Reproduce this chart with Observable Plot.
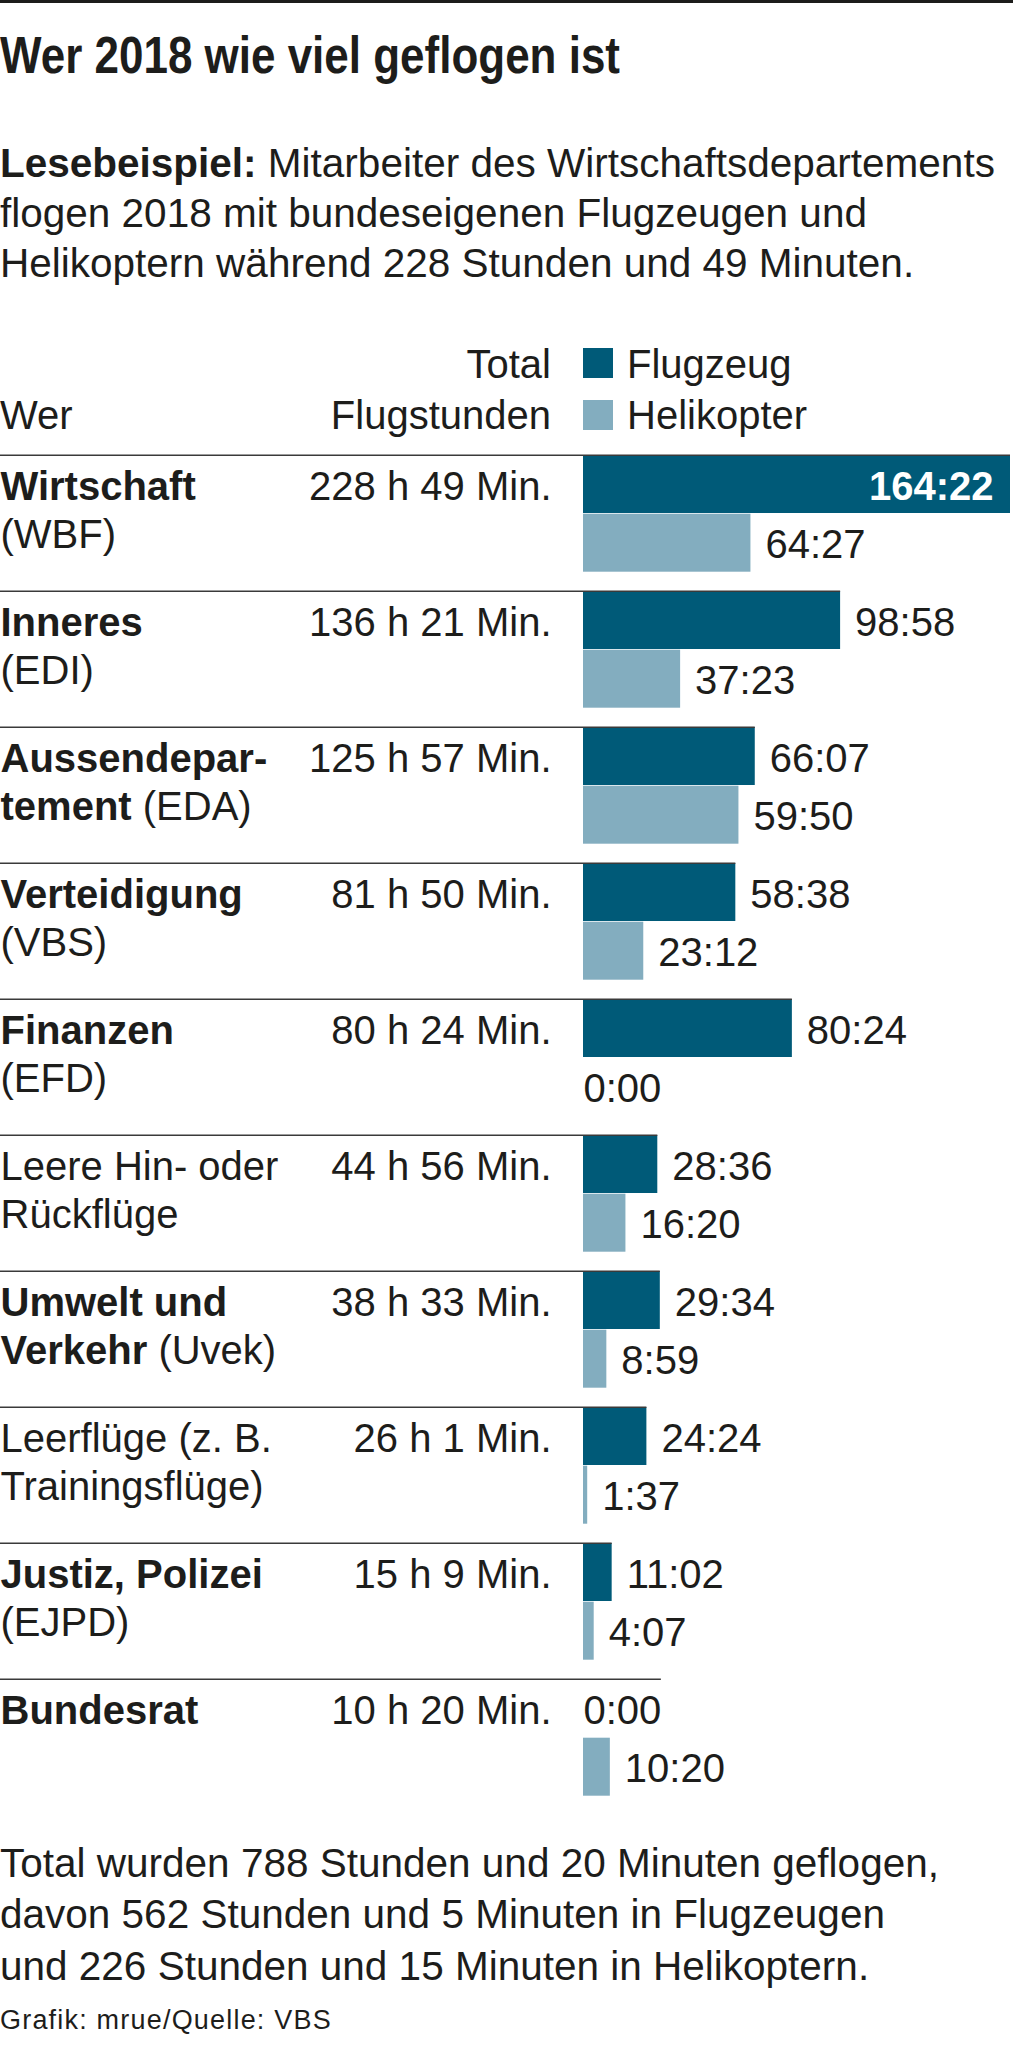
<!DOCTYPE html>
<html><head><meta charset="utf-8">
<script src="https://cdn.jsdelivr.net/npm/d3@7"></script>
<script src="https://cdn.jsdelivr.net/npm/@observablehq/plot@0.6"></script>
<style>
html,body{margin:0;padding:0;background:#fff;}
body{width:1013px;height:2048px;position:relative;overflow:hidden;color:#1d1d1b;}
.abs{position:absolute;white-space:nowrap;}
</style></head><body>
<script>
// ---------- data ----------
const title = "Wer 2018 wie viel geflogen ist";
const intro = ["**Lesebeispiel:** Mitarbeiter des Wirtschaftsdepartements",
               "flogen 2018 mit bundeseigenen Flugzeugen und",
               "Helikoptern während 228 Stunden und 49 Minuten."];
const headWer = "Wer";
const headTotal = ["Total", "Flugstunden"];
const serien = ["Flugzeug", "Helikopter"];
const wer = ["**Wirtschaft**\n(WBF)", "**Inneres**\n(EDI)", "**Aussendepar-**\n**tement** (EDA)",
             "**Verteidigung**\n(VBS)", "**Finanzen**\n(EFD)", "Leere Hin- oder\nRückflüge",
             "**Umwelt und**\n**Verkehr** (Uvek)", "Leerflüge (z. B.\nTrainingsflüge)",
             "**Justiz, Polizei**\n(EJPD)", "**Bundesrat**"];
const flugzeug   = ["164:22","98:58","66:07","58:38","80:24","28:36","29:34","24:24","11:02","0:00"];
const helikopter = ["64:27","37:23","59:50","23:12","0:00","16:20","8:59","1:37","4:07","10:20"];
const footer = ["Total wurden 788 Stunden und 20 Minuten geflogen,",
                "davon 562 Stunden und 5 Minuten in Flugzeugen",
                "und 226 Stunden und 15 Minuten in Helikoptern."];
const credit = "Grafik: mrue/Quelle: VBS";

// ---------- style ----------
const FONT = '"Liberation Sans", Arimo, Arial, Helvetica, sans-serif';
const NARROW = '"Liberation Sans Narrow", "Arial Narrow", "Liberation Sans", Arial, sans-serif';
const COLORS = ["#005a78", "#83adbf"];
const INK = "#1d1d1b";

function mdSpans(line) {
  return line.split("**").map((t, j) => {
    const s = document.createElement("span");
    s.textContent = t;
    if (j % 2 === 1) s.style.fontWeight = "bold";
    return s;
  });
}
function put(content, o) {
  const d = document.createElement("div");
  d.className = "abs";
  d.style.fontSize = o.size + "px";
  d.style.lineHeight = o.size + "px";
  d.style.fontFamily = o.family || FONT;
  d.style.fontWeight = o.weight || "normal";
  d.style.color = INK;
  if (o.ls) d.style.letterSpacing = o.ls + "px";
  d.style.top = (o.base - (o.asc ?? 0.8465) * o.size) + "px";
  if (o.right != null) { d.style.right = (1013 - o.right) + "px"; d.style.textAlign = "right"; }
  else d.style.left = (o.left || 0) + "px";
  if (typeof content === "string") d.append(...mdSpans(content)); else d.append(...content);
  document.body.appendChild(d);
  return d;
}

// top rule
const topRule = document.createElement("div");
Object.assign(topRule.style, {position: "absolute", left: "0", top: "0", width: "1013px", height: "3px", background: INK});
document.body.appendChild(topRule);

// title
const t = put(title, {base: 73, size: 52, weight: "bold", family: NARROW});
{
  const w = t.getBoundingClientRect().width;
  if (Math.abs(w - 620) / 620 > 0.03) { t.style.transformOrigin = "0 0"; t.style.transform = `scaleX(${620 / w})`; }
}
// intro
intro.forEach((line, i) => put(line, {base: 177 + i * 50, size: 40.5}));

// header
put(headTotal[0], {base: 378, size: 40, right: 551});
put(headTotal[1], {base: 429, size: 40, right: 551});
put(headWer, {base: 429, size: 40, left: 0});
serien.forEach((s, i) => {
  const sq = document.createElement("div");
  Object.assign(sq.style, {position: "absolute", left: "583px", top: (348 + i * 51.5) + "px", width: "30px", height: "30px", background: COLORS[i]});
  document.body.appendChild(sq);
  put(s, {base: 378 + i * 51, size: 40, left: 627});
});

// ---------- chart ----------
const toH = s => { const [h, m] = s.split(":").map(Number); return h + m / 60; };
const plain = s => s.split("**").join("");
const ctx = document.createElement("canvas").getContext("2d");
const measure = (txt, weight = "normal") => { ctx.font = `${weight} 40px ${FONT}`; return ctx.measureText(txt).width; };

const W = 1013, ML = 583, MR = 3, MT = 11, BW = 136.7, BAR = 58.7;
const rows = wer.map((w, i) => {
  const [l1, l2 = ""] = w.split("\n");
  const f = flugzeug[i], h = helikopter[i];
  const [fh, fm] = f.split(":").map(Number), [hh, hm] = h.split(":").map(Number);
  const tot = fh * 60 + fm + hh * 60 + hm;
  return {i, line1: plain(l1), line2: plain(l2), flug: toH(f), heli: toH(h), fLabel: f, hLabel: h,
          total: `${Math.floor(tot / 60)} h ${tot % 60} Min.`};
});
const xMax = d3.max(rows, d => d.flug);
const k = (W - ML - MR) / xMax;
rows.forEach(d => {
  d.inside = ML + d.flug * k + 14.5 + measure(d.fLabel) > W;
  d.lineEnd = d.flug > 0 ? d.flug : measure(d.fLabel) / k;
});
const H = MT + BW * rows.length;
const yb = off => off - BW / 2; // offset from band centre

const txt = {fontSize: 40, lineAnchor: "bottom", fill: INK};
const svg = Plot.plot({
  width: W, height: H, marginLeft: ML, marginRight: MR, marginTop: MT, marginBottom: 0,
  x: {domain: [0, xMax], axis: null},
  y: {domain: rows.map(d => d.i), padding: 0, axis: null},
  color: {domain: serien, range: COLORS},
  style: {fontFamily: FONT, fontSize: "40px", color: INK, background: "transparent", overflow: "visible"},
  marks: [
    Plot.barX(rows, {y: "i", x: "flug", fill: () => serien[0], insetBottom: BW - BAR}),
    Plot.barX(rows, {y: "i", x: "heli", fill: () => serien[1], insetTop: BAR, insetBottom: BW - 2 * BAR}),
    Plot.ruleY(rows, {y: "i", x1: 0, x2: "lineEnd", insetLeft: -ML, stroke: "#3a3a3a", strokeWidth: 1.5, dy: yb(0)}),
    // category labels
    Plot.text(rows, {...txt, y: "i", text: "line1", frameAnchor: "left", textAnchor: "start", dx: -ML, dy: yb(44.5)}),
    Plot.text(rows, {...txt, y: "i", text: "line2", frameAnchor: "left", textAnchor: "start", dx: -ML, dy: yb(92.5)}),
    // totals
    Plot.text(rows, {...txt, y: "i", text: "total", frameAnchor: "left", textAnchor: "end", dx: 551 - ML, dy: yb(44.5)}),
    // value labels: Flugzeug
    Plot.text(rows, {...txt, filter: d => d.flug > 0 && !d.inside, y: "i", x: "flug", text: "fLabel", textAnchor: "start", dx: 14.5, dy: yb(44.5)}),
    Plot.text(rows, {...txt, filter: d => d.inside, y: "i", x: "flug", text: "fLabel", textAnchor: "end", dx: -17, dy: yb(44.5), fill: "white", fontWeight: "bold"}),
    Plot.text(rows, {...txt, filter: d => d.flug === 0, y: "i", x: "flug", text: "fLabel", textAnchor: "start", dx: 0, dy: yb(44.5)}),
    // value labels: Helikopter
    Plot.text(rows, {...txt, filter: d => d.heli > 0, y: "i", x: "heli", text: "hLabel", textAnchor: "start", dx: 14.5, dy: yb(103)}),
    Plot.text(rows, {...txt, filter: d => d.heli === 0, y: "i", x: "heli", text: "hLabel", textAnchor: "start", dx: 0, dy: yb(103)})
  ]
});
// apply bold / regular runs to the category labels
const segs = new Map();
for (const w of wer) for (const line of w.split("\n")) segs.set(plain(line), line.split("**").map((s, j) => ({s, b: j % 2 === 1})).filter(p => p.s));
svg.querySelectorAll("text").forEach(el => {
  const s = segs.get(el.textContent);
  if (!s) return;
  el.textContent = "";
  for (const p of s) {
    const ts = document.createElementNS("http://www.w3.org/2000/svg", "tspan");
    ts.textContent = p.s;
    if (p.b) ts.setAttribute("font-weight", "bold");
    el.appendChild(ts);
  }
  el.setAttribute("xml:space", "preserve");
});
const holder = document.createElement("div");
Object.assign(holder.style, {position: "absolute", left: "0", top: "440px"});
holder.appendChild(svg);
document.body.appendChild(holder);

// footer
footer.forEach((line, i) => put(line, {base: 1877 + i * 51.5, size: 40.5}));
put(credit, {base: 2030, size: 27, ls: 1.2});
</script>
</body></html>
